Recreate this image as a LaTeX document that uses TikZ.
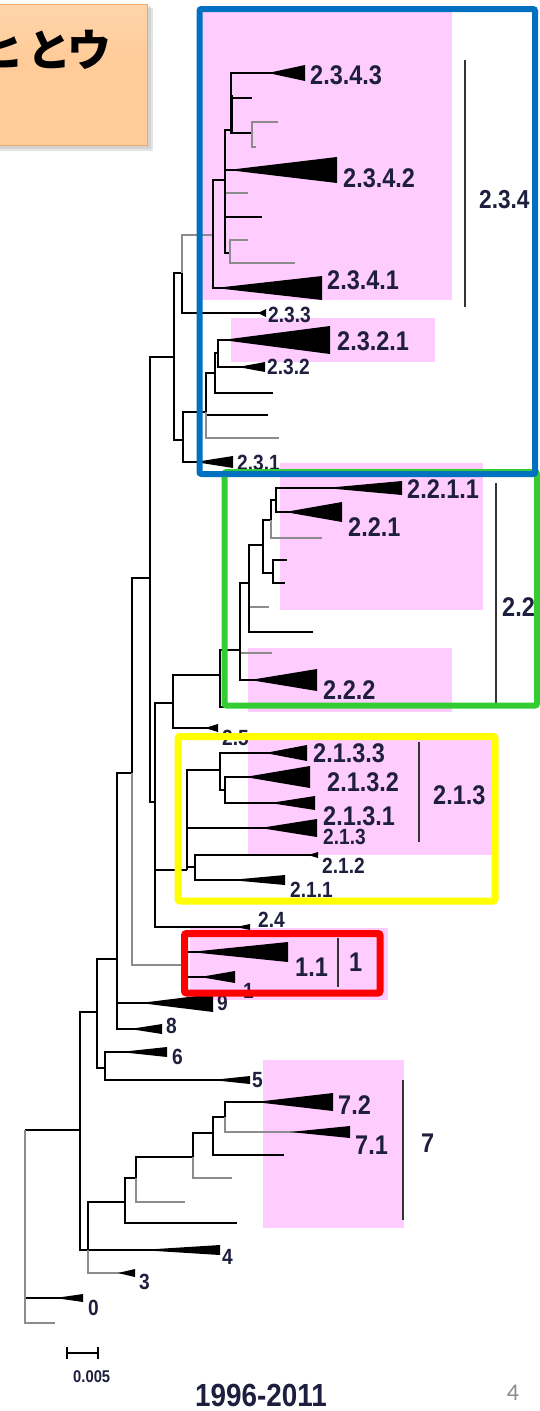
\documentclass[tikz,border=0pt]{standalone}
\usepackage{fontspec}
\setmainfont{Liberation Sans}
\newfontfamily\lblfont[FakeStretch=0.87]{Liberation Sans Bold}
\newfontfamily\jpfont{Noto Sans CJK JP}
\newfontfamily\pagefont{Carlito}

\definecolor{pinkbg}{RGB}{255,204,255}
\definecolor{frameblue}{RGB}{0,112,192}
\definecolor{framegreen}{RGB}{51,204,51}
\definecolor{frameyellow}{RGB}{255,255,0}
\definecolor{framered}{RGB}{255,0,0}
\definecolor{lblcol}{RGB}{30,30,62}
\definecolor{peach}{RGB}{255,204,153}
\definecolor{peachedge}{RGB}{240,170,110}

\tikzset{
  br/.style={line width=1.8pt, black},
  gbr/.style={line width=1.8pt, black!45},
  lblbig/.style={text=lblcol, inner sep=0pt, font=\lblfont\fontsize{27}{27}\selectfont},
  lblsmall/.style={text=lblcol, inner sep=0pt, font=\lblfont\fontsize{22}{22}\selectfont},
  cladebar/.style={line width=1.4pt, black!80},
  pinkbox/.style={fill=pinkbg},
  groupframe/.style={line width=6pt, rounded corners=2pt},
}
% branch from a node's point to a child: vertical, then horizontal
\newcommand\edge[3][br]{\draw[#1] (#2) |- (#3);}
% collapsed clade drawn as a wedge from its tip to the end of the branch
\newcommand\wedgeat[3]{\fill (#1) -- ([yshift=#3pt]#2) -- ([yshift=-#3pt]#2) -- cycle;}

\begin{document}
\begin{tikzpicture}[x=1pt,y=-1pt]
\useasboundingbox (0,0) rectangle (539,1411);

% ---------- title tab ----------
\begin{scope}
  \clip (0,0) rectangle (539,1411);
  \fill[black!30, opacity=0.35] (-10,8) rectangle (153,151);
  \fill[black!30, opacity=0.35] (-10,6) rectangle (151,149);
  \fill[peach, draw=peachedge, line width=1pt] (-10,4) rectangle (147,145);
  \shade[top color=peach!70!white, bottom color=peach, opacity=0.6] (-10,5) rectangle (146,60);
  \node[anchor=base east, inner sep=0pt, font=\jpfont\bfseries\fontsize{44}{44}\selectfont] (title) at (112,66) {ヒ\kern4ptと\kern-4ptウ};
\end{scope}

% ---------- highlighted clade backgrounds ----------
\fill[pinkbox] (201,10) rectangle (452,300);
\fill[pinkbox] (231,318) rectangle (435,362);
\fill[pinkbox] (280,463) rectangle (483,610);
\fill[pinkbox] (248,648) rectangle (452,712);
\fill[pinkbox] (248,740) rectangle (492,855);
\fill[pinkbox] (190,928) rectangle (388,1000);
\fill[pinkbox] (263,1060) rectangle (404,1228);

% ---------- internal nodes ----------
\coordinate (root) at (25,1130);
\coordinate (nA) at (80,1130);
\coordinate (nB) at (97,1012);
\coordinate (nC) at (88,1250);
\coordinate (nD) at (125,1202);
\coordinate (nE) at (136,1178);
\coordinate (nF) at (193,1157);
\coordinate (nG) at (213,1133);
\coordinate (nH) at (225,1117);
\coordinate (nI) at (105,1068);
\coordinate (nJ) at (117,959);
\coordinate (nK) at (132,773);
\coordinate (nL) at (150,578);
\coordinate (nM) at (155,802);
\coordinate (nN) at (173,703);
\coordinate (n1) at (186,965);
\coordinate (n22) at (220,675);
\coordinate (n240) at (240,650);
\coordinate (n249) at (249,583);
\coordinate (n263) at (263,545);
\coordinate (n273) at (273,573);
\coordinate (n271) at (271,520);
\coordinate (n276) at (276,500);
\coordinate (n21) at (187,870);
\coordinate (n220) at (220,770);
\coordinate (n225) at (225,790);
\coordinate (n195) at (195,867);
\coordinate (n23) at (174,357);
\coordinate (n182) at (182,273);
\coordinate (n213) at (213,235);
\coordinate (n225b) at (225,180);
\coordinate (n231) at (231,130);
\coordinate (n252) at (252,133);
\coordinate (n230) at (230,253);
\coordinate (n183) at (183,440);
\coordinate (n206) at (206,412);
\coordinate (n215) at (215,373);
\coordinate (n218) at (218,353);

% ---------- leaf ends ----------
\coordinate (l0) at (83,1298);   \coordinate (t0) at (55,1298);
\coordinate (lr) at (55,1323);
\coordinate (l4) at (220,1250);  \coordinate (t4) at (140,1250);
\coordinate (l3) at (135,1273);  \coordinate (t3) at (118,1273);
\coordinate (lD) at (237,1223);
\coordinate (lE) at (185,1202);
\coordinate (lF) at (232,1178);
\coordinate (lG) at (284,1155);
\coordinate (l72) at (333,1102); \coordinate (t72) at (255,1102);
\coordinate (l71) at (350,1132); \coordinate (t71) at (290,1132);
\coordinate (l6) at (167,1052);  \coordinate (t6) at (120,1052);
\coordinate (l5) at (250,1080);  \coordinate (t5) at (212,1080);
\coordinate (l9) at (213,1003);  \coordinate (t9) at (140,1003);
\coordinate (l8) at (162,1029);  \coordinate (t8) at (130,1029);
\coordinate (l11) at (288,952);  \coordinate (t11) at (190,952);
\coordinate (l1) at (235,977);   \coordinate (t1) at (200,977);
\coordinate (l24) at (250,927);  \coordinate (t24) at (236,927);
\coordinate (l25) at (218,728);  \coordinate (t25) at (205,728);
\coordinate (l22h) at (262,707);
\coordinate (l240g) at (272,653);
\coordinate (l222) at (317,680); \coordinate (t222) at (250,680);
\coordinate (l249g) at (269,607);
\coordinate (l249) at (313,632);
\coordinate (l273a) at (287,560);
\coordinate (l273b) at (285,583);
\coordinate (l271g) at (322,538);
\coordinate (l2211) at (402,488); \coordinate (t2211) at (325,488);
\coordinate (l221) at (342,512);  \coordinate (t221) at (285,512);
\coordinate (l2133) at (307,753); \coordinate (t2133) at (265,753);
\coordinate (l2132) at (310,777); \coordinate (t2132) at (245,777);
\coordinate (l2131) at (315,803); \coordinate (t2131) at (270,803);
\coordinate (l213) at (317,828);  \coordinate (t213) at (260,828);
\coordinate (l212) at (318,855);  \coordinate (t212) at (308,855);
\coordinate (l211) at (285,880);  \coordinate (t211) at (230,880);
\coordinate (l233) at (266,313);  \coordinate (t233) at (258,313);
\coordinate (l2341) at (322,288); \coordinate (t2341) at (215,288);
\coordinate (l2342) at (337,170); \coordinate (t2342) at (228,170);
\coordinate (l2343) at (305,73);  \coordinate (t2343) at (268,73);
\coordinate (l225g1) at (248,193);
\coordinate (l225b) at (262,217);
\coordinate (l231) at (252,98);
\coordinate (l252g) at (278,122);
\coordinate (l252) at (256,147);
\coordinate (l230g1) at (248,240);
\coordinate (l230g2) at (295,263);
\coordinate (l2321) at (330,340); \coordinate (t2321) at (222,340);
\coordinate (l232) at (265,367);  \coordinate (t232) at (238,367);
\coordinate (l2311) at (233,462); \coordinate (t2311) at (195,462);
\coordinate (l206) at (268,415);
\coordinate (l206g) at (279,438);
\coordinate (l215) at (273,393);

% ---------- branches ----------
\edge{root}{nA} \edge{root}{l0} \edge[gbr]{root}{lr}
\edge{nA}{nB} \edge{nA}{nC}
\edge{nC}{nD} \edge{nC}{l4} \edge[gbr]{nC}{l3}
\edge{nD}{nE} \edge{nD}{lD}
\edge{nE}{nF} \edge[gbr]{nE}{lE}
\edge{nF}{nG} \edge[gbr]{nF}{lF}
\edge{nG}{nH} \edge{nG}{lG}
\edge{nH}{l72} \edge[gbr]{nH}{l71}
\edge{nB}{nJ} \edge{nB}{nI}
\edge{nI}{l6} \edge{nI}{l5}
\edge{nJ}{nK} \edge{nJ}{l9} \edge{nJ}{l8}
\edge{nK}{nL} \edge[gbr]{nK}{n1}
\edge{n1}{l11} \edge{n1}{l1}
\edge{nL}{n23} \edge{nL}{nM}
\edge{nM}{nN} \edge{nM}{n21} \edge{nM}{l24}
\edge{nN}{n22} \edge{nN}{l25}
\edge{n22}{n240} \edge{n22}{l22h}
\edge{n240}{n249} \edge[gbr]{n240}{l240g} \edge{n240}{l222}
\edge{n249}{n263} \edge[gbr]{n249}{l249g} \edge{n249}{l249}
\edge{n263}{n271} \edge{n263}{n273}
\edge{n273}{l273a} \edge{n273}{l273b}
\edge{n271}{n276} \edge[gbr]{n271}{l271g}
\edge{n276}{l2211} \edge{n276}{l221}
\edge{n21}{n220} \edge{n21}{l213} \edge{n21}{n195}
\edge{n220}{l2133} \edge{n220}{n225}
\edge{n225}{l2132} \edge{n225}{l2131}
\edge{n195}{l212} \edge{n195}{l211}
\edge{n23}{n182} \edge{n23}{n183}
\edge[gbr]{n182}{n213} \edge{n182}{l233}
\edge{n213}{n225b} \edge{n213}{l2341}
\edge{n225b}{n231} \edge{n225b}{l2342} \edge[gbr]{n225b}{l225g1}
\edge{n225b}{l225b} \edge{n225b}{n230}
\edge{n231}{l2343} \edge{n231}{l231} \edge{n231}{n252}
\edge[gbr]{n252}{l252g} \edge[gbr]{n252}{l252}
\edge[gbr]{n230}{l230g1} \edge[gbr]{n230}{l230g2}
\edge{n183}{n206} \edge{n183}{l2311}
\edge{n206}{n215} \edge{n206}{l206} \edge[gbr]{n206}{l206g}
\edge{n215}{n218} \edge{n215}{l215}
\edge{n218}{l2321} \edge{n218}{l232}
\draw[line width=3pt] (231,95) -- (231,133);

% ---------- collapsed clades ----------
\wedgeat{t0}{l0}{4}
\wedgeat{t4}{l4}{5}
\wedgeat{t3}{l3}{4}
\wedgeat{t72}{l72}{9}
\wedgeat{t71}{l71}{6}
\wedgeat{t6}{l6}{5}
\wedgeat{t5}{l5}{4}
\wedgeat{t9}{l9}{9}
\wedgeat{t8}{l8}{5}
\wedgeat{t11}{l11}{10}
\wedgeat{t1}{l1}{6}
\wedgeat{t24}{l24}{3}
\wedgeat{t25}{l25}{4}
\wedgeat{t222}{l222}{11}
\wedgeat{t2211}{l2211}{7}
\wedgeat{t221}{l221}{10}
\wedgeat{t2133}{l2133}{8}
\wedgeat{t2132}{l2132}{11}
\wedgeat{t2131}{l2131}{7}
\wedgeat{t213}{l213}{9}
\wedgeat{t212}{l212}{3}
\wedgeat{t211}{l211}{5}
\wedgeat{t233}{l233}{4}
\wedgeat{t2341}{l2341}{12}
\wedgeat{t2342}{l2342}{13}
\wedgeat{t2343}{l2343}{8}
\wedgeat{t2321}{l2321}{14}
\wedgeat{t232}{l232}{5}
\wedgeat{t2311}{l2311}{6}

% ---------- clade labels ----------
\node[lblbig, anchor=west] (c2343) at (310,75) {2.3.4.3};
\node[lblbig, anchor=west] (c2342) at (343,178) {2.3.4.2};
\node[lblbig, anchor=west] (c2341) at (327,280) {2.3.4.1};
\node[lblbig, anchor=west, font=\lblfont\fontsize{26}{26}\selectfont] (c234) at (479,200) {2.3.4};
\node[lblsmall, anchor=west] (c233) at (268,315) {2.3.3};
\node[lblbig, anchor=west] (c2321) at (337,341) {2.3.2.1};
\node[lblsmall, anchor=west] (c232) at (267,367) {2.3.2};
\node[lblsmall, anchor=west] (c231) at (237,463) {2.3.1};
\node[lblbig, anchor=west] (c2211) at (407,489) {2.2.1.1};
\node[lblbig, anchor=west] (c221) at (348,527) {2.2.1};
\node[lblbig, anchor=west] (c22) at (502,607) {2.2};
\node[lblbig, anchor=west] (c222) at (323,690) {2.2.2};
\node[lblsmall, anchor=west] (c25) at (222,738) {2.5};
\node[lblbig, anchor=west] (c2133) at (313,753) {2.1.3.3};
\node[lblbig, anchor=west] (c2132) at (327,782) {2.1.3.2};
\node[lblbig, anchor=west] (c2131) at (323,816) {2.1.3.1};
\node[lblsmall, anchor=west] (c213s) at (323,837) {2.1.3};
\node[lblsmall, anchor=west] (c212) at (322,866) {2.1.2};
\node[lblsmall, anchor=west] (c211) at (290,890) {2.1.1};
\node[lblbig, anchor=west] (c213) at (433,795) {2.1.3};
\node[lblsmall, anchor=west] (c24) at (258,920) {2.4};
\node[lblbig, anchor=west] (c11) at (295,967) {1.1};
\node[lblbig, anchor=west] (c1) at (349,962) {1};
\node[lblsmall, anchor=west] (c1s) at (243,991) {1};
\node[lblsmall, anchor=west] (c9) at (217,1003) {9};
\node[lblsmall, anchor=west] (c8) at (166,1026) {8};
\node[lblsmall, anchor=west] (c6) at (172,1057) {6};
\node[lblsmall, anchor=west] (c5) at (252,1080) {5};
\node[lblbig, anchor=west] (c72) at (338,1105) {7.2};
\node[lblbig, anchor=west] (c71) at (355,1145) {7.1};
\node[lblbig, anchor=west] (c7) at (421,1143) {7};
\node[lblsmall, anchor=west] (c4) at (222,1257) {4};
\node[lblsmall, anchor=west] (c3) at (139,1282) {3};
\node[lblsmall, anchor=west] (c0) at (88,1308) {0};

% ---------- clade bars ----------
\draw[cladebar] (465,60) -- (465,307);
\draw[cladebar] (496,483) -- (496,705);
\draw[cladebar] (419,742) -- (419,842);
\draw[cladebar] (338,938) -- (338,987);
\draw[cladebar] (403,1080) -- (403,1220);

% ---------- scale bar and caption ----------
\coordinate (sb1) at (67,1353);
\coordinate (sb2) at (98,1353);
\draw[line width=1.5pt] (sb1) -- (sb2);
\draw[line width=1.5pt] ([yshift=6pt]sb1) -- ([yshift=-6pt]sb1);
\draw[line width=1.5pt] ([yshift=6pt]sb2) -- ([yshift=-6pt]sb2);
\node[text=lblcol, inner sep=0pt, anchor=west, font=\lblfont\fontsize{17}{17}\selectfont] (scale) at (73,1377) {0.005};
\node[text=lblcol, inner sep=0pt, anchor=west, font=\lblfont\fontsize{32}{32}\selectfont] (years) at (195,1395) {1996-2011};
\node[text=black!45, inner sep=0pt, font=\pagefont\fontsize{24}{24}\selectfont] (page) at (513,1393) {4};

% ---------- group frames ----------
\draw[groupframe, draw=framegreen] (224.5,472) rectangle (537,705.5);
\draw[groupframe, draw=frameblue] (199.5,9) rectangle (535,474);
\draw[groupframe, draw=frameyellow, line width=7pt] (178,736.5) rectangle (495,901);
\draw[groupframe, draw=framered, line width=7pt] (184.5,933.5) rectangle (380,993);
\end{tikzpicture}
\end{document}
